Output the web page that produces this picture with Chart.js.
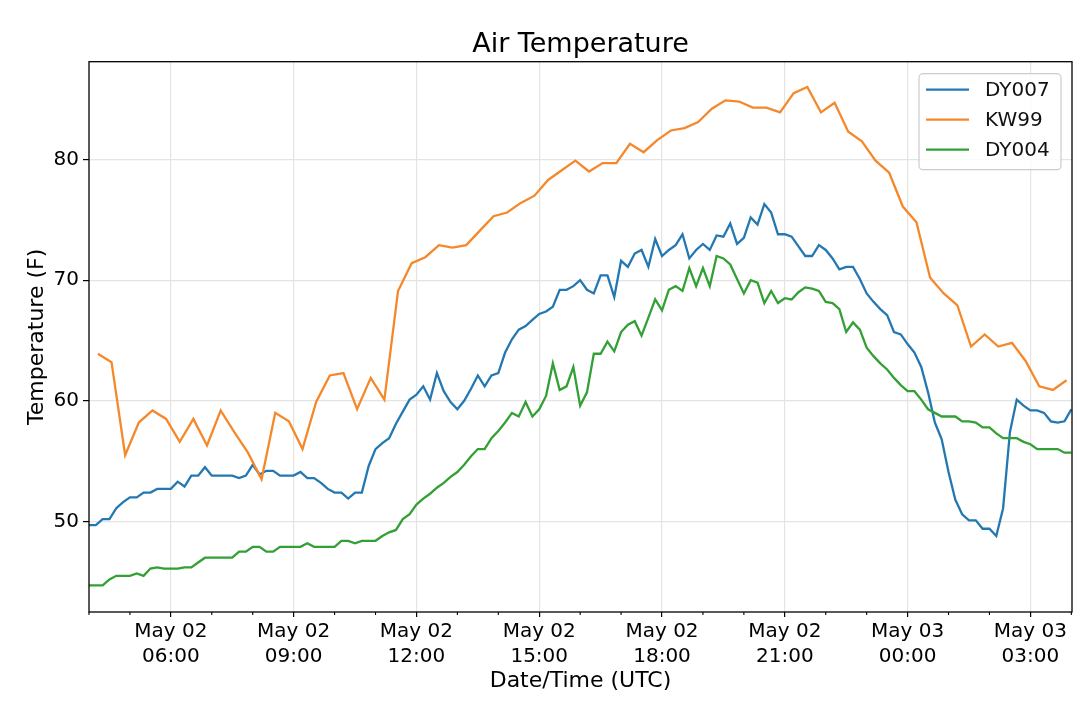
<!DOCTYPE html>
<html>
<head>
<meta charset="utf-8">
<title>Air Temperature</title>
<script src="https://cdn.jsdelivr.net/npm/chart.js@4.4.1/dist/chart.umd.min.js"></script>
<style>
  html, body { margin: 0; padding: 0; background: #fff; }
  #wrap { width: 1080px; height: 708px; }
</style>
</head>
<body>
<div id="wrap"><canvas id="airChart" width="1080" height="708"></canvas></div>
<script>
// times are minutes after May 02 04:00 UTC
const dy007Start = 0, dy007Step = 10;
const dy007 = [
  49.7, 49.7, 50.2, 50.2, 51.1, 51.6, 52.0, 52.0, 52.4, 52.4,
  52.7, 52.7, 52.7, 53.3, 52.9, 53.8, 53.8, 54.5, 53.8, 53.8,
  53.8, 53.8, 53.6, 53.8, 54.7, 53.9, 54.2, 54.2, 53.8, 53.8,
  53.8, 54.1, 53.6, 53.6, 53.2, 52.7, 52.4, 52.4, 51.9, 52.4,
  52.4, 54.6, 56.0, 56.5, 56.9, 58.1, 59.1, 60.1, 60.5, 61.2,
  60.1, 62.3, 60.8, 59.9, 59.3, 60.0, 61.0, 62.1, 61.2, 62.1,
  62.3, 64.0, 65.1, 65.9, 66.2, 66.7, 67.2, 67.4, 67.8, 69.2,
  69.2, 69.5, 70.0, 69.2, 68.9, 70.4, 70.4, 68.6, 71.6, 71.1,
  72.2, 72.5, 71.1, 73.4, 72.0, 72.5, 72.9, 73.8, 71.8, 72.5,
  73.0, 72.5, 73.7, 73.6, 74.7, 73.0, 73.5, 75.2, 74.6, 76.3,
  75.6, 73.8, 73.8, 73.6, 72.8, 72.0, 72.0, 72.9, 72.5, 71.8,
  70.9, 71.1, 71.1, 70.1, 68.9, 68.2, 67.6, 67.1, 65.7, 65.5,
  64.7, 64.0, 62.8, 60.7, 58.2, 56.8, 54.1, 51.8, 50.6, 50.1,
  50.1, 49.4, 49.4, 48.8, 51.1, 57.4, 60.1, 59.6, 59.2, 59.2,
  59.0, 58.3, 58.2, 58.3, 59.3
];

const kw99Start = 13, kw99Step = 20;
const kw99 = [
  63.9, 63.2, 55.5, 58.2, 59.2, 58.5, 56.6, 58.5, 56.3, 59.2,
  57.4, 55.7, 53.5, 59.0, 58.3, 56.0, 59.9, 62.1, 62.3, 59.3,
  61.9, 60.1, 69.1, 71.4, 71.9, 72.9, 72.7, 72.9, 74.1, 75.3,
  75.6, 76.4, 77.0, 78.3, 79.1, 79.9, 79.0, 79.7, 79.7, 81.3,
  80.6, 81.6, 82.4, 82.6, 83.1, 84.2, 84.9, 84.8, 84.3, 84.3,
  83.9, 85.5, 86.0, 83.9, 84.7, 82.3, 81.5, 79.9, 78.9, 76.1,
  74.8, 70.2, 68.9, 67.9, 64.5, 65.5, 64.5, 64.8, 63.3, 61.2,
  60.9, 61.7
];

const dy004Start = 0, dy004Step = 10;
const dy004 = [
  44.7, 44.7, 44.7, 45.2, 45.5, 45.5, 45.5, 45.7, 45.5, 46.1,
  46.2, 46.1, 46.1, 46.1, 46.2, 46.2, 46.6, 47.0, 47.0, 47.0,
  47.0, 47.0, 47.5, 47.5, 47.9, 47.9, 47.5, 47.5, 47.9, 47.9,
  47.9, 47.9, 48.2, 47.9, 47.9, 47.9, 47.9, 48.4, 48.4, 48.2,
  48.4, 48.4, 48.4, 48.8, 49.1, 49.3, 50.2, 50.6, 51.4, 51.9,
  52.3, 52.8, 53.2, 53.7, 54.1, 54.7, 55.4, 56.0, 56.0, 56.9,
  57.5, 58.2, 59.0, 58.7, 59.9, 58.7, 59.3, 60.4, 63.1, 60.9,
  61.2, 62.8, 59.6, 60.7, 63.9, 63.9, 64.9, 64.1, 65.7, 66.3,
  66.6, 65.4, 66.9, 68.4, 67.5, 69.2, 69.5, 69.1, 71.0, 69.5,
  71.0, 69.5, 72.0, 71.8, 71.3, 70.1, 68.9, 70.0, 69.8, 68.1,
  69.1, 68.1, 68.5, 68.4, 69.0, 69.4, 69.3, 69.1, 68.2, 68.1,
  67.6, 65.7, 66.5, 65.9, 64.4, 63.7, 63.1, 62.6, 61.9, 61.3,
  60.8, 60.8, 60.1, 59.3, 59.0, 58.7, 58.7, 58.7, 58.3, 58.3,
  58.2, 57.8, 57.8, 57.3, 56.9, 56.9, 56.9, 56.6, 56.4, 56.0,
  56.0, 56.0, 56.0, 55.7, 55.7
];

const xTickMinutes = [120, 300, 480, 660, 840, 1020, 1200, 1380];
const xTickLabels = [
  ['May 02', '06:00'], ['May 02', '09:00'], ['May 02', '12:00'], ['May 02', '15:00'],
  ['May 02', '18:00'], ['May 02', '21:00'], ['May 03', '00:00'], ['May 03', '03:00']
];
const xMinorMinutes = [0, 60, 180, 240, 360, 420, 540, 600, 720, 780, 900, 960, 1080, 1140, 1260, 1320, 1440];
const yTicks = [50, 60, 70, 80];

const FONT = 'DejaVu Sans';

function toPoints(vals, start, step) {
  return vals.map((v, i) => ({ x: start + i * step, y: v }));
}

// box round the plot plus the small hourly ticks
const frameBox = {
  id: 'frameBox',
  afterDatasetsDraw(chart) {
    const { ctx, chartArea } = chart;
    const xs = chart.scales.x;
    ctx.save();
    ctx.strokeStyle = '#000';
    ctx.lineWidth = 1.3;
    ctx.strokeRect(chartArea.left, chartArea.top, chartArea.right - chartArea.left, chartArea.bottom - chartArea.top);
    ctx.lineWidth = 1.1;
    ctx.beginPath();
    xMinorMinutes.forEach(m => {
      const px = xs.getPixelForValue(m);
      ctx.moveTo(px, chartArea.bottom);
      ctx.lineTo(px, chartArea.bottom + 3);
    });
    ctx.stroke();
    ctx.restore();
  }
};

// legend in the upper right corner of the plot, like matplotlib's
const cornerLegend = {
  id: 'cornerLegend',
  afterDraw(chart) {
    const { ctx, chartArea } = chart;
    const w = 142, h = 96;
    const x0 = chartArea.right - 11 - w, y0 = chartArea.top + 12;
    ctx.save();
    ctx.beginPath();
    ctx.roundRect(x0, y0, w, h, 4);
    ctx.fillStyle = 'rgba(255,255,255,0.8)';
    ctx.fill();
    ctx.strokeStyle = '#cccccc';
    ctx.lineWidth = 1.2;
    ctx.stroke();
    ctx.font = '20px "' + FONT + '"';
    ctx.textBaseline = 'middle';
    chart.data.datasets.forEach((ds, i) => {
      const y = y0 + 16 + i * 30;
      ctx.beginPath();
      ctx.moveTo(x0 + 7, y);
      ctx.lineTo(x0 + 50, y);
      ctx.strokeStyle = ds.borderColor;
      ctx.lineWidth = 2.3;
      ctx.stroke();
      ctx.fillStyle = '#111';
      ctx.fillText(ds.label, x0 + 66, y + 1);
    });
    ctx.restore();
  }
};

new Chart(document.getElementById('airChart'), {
  type: 'line',
  data: {
    datasets: [
      { label: 'DY007', data: toPoints(dy007, dy007Start, dy007Step), borderColor: '#2478b2', order: 3 },
      { label: 'KW99', data: toPoints(kw99, kw99Start, kw99Step), borderColor: '#f5882a', order: 2 },
      { label: 'DY004', data: toPoints(dy004, dy004Start, dy004Step), borderColor: '#32a034', order: 1 }
    ]
  },
  options: {
    responsive: false,
    animation: false,
    parsing: false,
    layout: { padding: { left: 0, right: 8, top: 0, bottom: 0 } },
    elements: {
      line: { borderWidth: 2.3, tension: 0, fill: false },
      point: { radius: 0, hoverRadius: 0 }
    },
    plugins: {
      legend: { display: false },
      tooltip: { enabled: false },
      title: {
        display: true,
        text: 'Air Temperature',
        fullSize: false,
        color: '#000',
        font: { family: FONT, size: 27, weight: 'normal', lineHeight: 1.1 },
        padding: { top: 30, bottom: 2 }
      }
    },
    scales: {
      x: {
        type: 'linear',
        min: 0,
        max: 1441,
        afterBuildTicks: s => { s.ticks = xTickMinutes.map(v => ({ value: v })); },
        afterFit: s => { s.height = 96; },
        border: { display: false },
        grid: { color: '#e4e4e4', lineWidth: 1.2, tickColor: '#000', tickLength: 5, tickWidth: 1.2 },
        ticks: {
          autoSkip: false,
          maxRotation: 0,
          minRotation: 0,
          padding: 2,
          color: '#000',
          font: { family: FONT, size: 20, lineHeight: 1.25 },
          callback: v => {
            const i = xTickMinutes.indexOf(v);
            return i >= 0 ? xTickLabels[i] : '';
          }
        },
        title: {
          display: true,
          text: 'Date/Time (UTC)',
          color: '#000',
          font: { family: FONT, size: 22 },
          padding: { top: 0, bottom: 14 }
        }
      },
      y: {
        min: 42.5,
        max: 88.1,
        afterBuildTicks: s => { s.ticks = yTicks.map(v => ({ value: v })); },
        afterFit: s => { s.width = 89; },
        border: { display: false },
        grid: { color: '#e4e4e4', lineWidth: 1.2, tickColor: '#000', tickLength: 6, tickWidth: 1.2 },
        ticks: {
          padding: 4,
          color: '#000',
          font: { family: FONT, size: 20 }
        },
        title: {
          display: true,
          text: 'Temperature (F)',
          color: '#000',
          font: { family: FONT, size: 22 },
          padding: { top: 24, bottom: 0 }
        }
      }
    }
  },
  plugins: [frameBox, cornerLegend]
});
</script>
</body>
</html>
